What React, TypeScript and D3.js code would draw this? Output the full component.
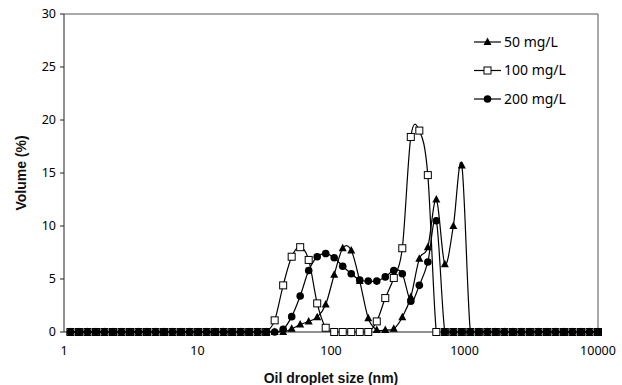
import React from "react";
import * as d3 from "d3";

const sizes = [1.117, 1.294, 1.499, 1.736, 2.01, 2.328, 2.696, 3.122, 3.615, 4.187, 4.849, 5.615, 6.503, 7.531, 8.721, 10.1, 11.7, 13.54, 15.69, 18.17, 21.04, 24.36, 28.21, 32.67, 37.84, 43.82, 50.75, 58.77, 68.06, 78.82, 91.28, 105.7, 122.4, 141.8, 164.2, 190.1, 220.2, 255.0, 295.3, 342.0, 396.1, 458.7, 531.2, 615.1, 712.4, 825.0, 955.4, 1106, 1281, 1484, 1718, 1990, 2305, 2669, 3091, 3580, 4145, 4801, 5560, 6439, 7456, 8635, 10000];

const vol50 = [0, 0, 0, 0, 0, 0, 0, 0, 0, 0, 0, 0, 0, 0, 0, 0, 0, 0, 0, 0, 0, 0, 0, 0, 0, 0, 0.3, 0.7, 1.0, 1.4, 2.6, 5.4, 7.9, 7.7, 4.8, 1.3, 0.2, 0.2, 0.3, 1.4, 3.3, 6.9, 8.0, 12.5, 6.4, 10.0, 15.7, 0, 0, 0, 0, 0, 0, 0, 0, 0, 0, 0, 0, 0, 0, 0, 0];
const vol100 = [0, 0, 0, 0, 0, 0, 0, 0, 0, 0, 0, 0, 0, 0, 0, 0, 0, 0, 0, 0, 0, 0, 0, 0, 1.1, 4.4, 7.1, 8.0, 6.8, 2.7, 0.4, 0, 0, 0, 0, 0, 1.0, 3.2, 5.1, 7.9, 18.4, 19.0, 14.8, 0, 0, 0, 0, 0, 0, 0, 0, 0, 0, 0, 0, 0, 0, 0, 0, 0, 0, 0, 0];
const vol200 = [0, 0, 0, 0, 0, 0, 0, 0, 0, 0, 0, 0, 0, 0, 0, 0, 0, 0, 0, 0, 0, 0, 0, 0, 0, 0.25, 1.45, 3.4, 5.8, 7.1, 7.4, 7.0, 6.2, 5.5, 4.9, 4.8, 4.8, 5.2, 5.8, 5.5, 2.9, 4.4, 6.6, 10.5, 0, 0, 0, 0, 0, 0, 0, 0, 0, 0, 0, 0, 0, 0, 0, 0, 0, 0, 0];

const seriesNames = ["50 mg/L", "100 mg/L", "200 mg/L"];
const xTicks = [1, 10, 100, 1000, 10000];
const yTicks = [0, 5, 10, 15, 20, 25, 30];

const W = 622, H = 385;
const L = 64, R = 598, T = 14, B = 332;

const x = d3.scaleLog().domain([1, 10000]).range([L, R]);
const y = d3.scaleLinear().domain([0, 30]).range([B, T]);

const line = d3
  .line<[number, number]>()
  .x((d) => x(d[0]))
  .y((d) => y(d[1]))
  .curve(d3.curveCardinal.tension(0));

const FONT = "'Noto Sans', 'DejaVu Sans', sans-serif";
const BOLD = "'Liberation Sans', Arial, sans-serif";

function Marker({ kind, cx, cy }: { kind: number; cx: number; cy: number }) {
  if (kind === 0) {
    const s = 4;
    return (
      <path
        d={`M${cx},${cy - s - 0.5}L${cx + s},${cy + s - 1}L${cx - s},${cy + s - 1}Z`}
        fill="#000"
      />
    );
  }
  if (kind === 1) {
    return (
      <rect x={cx - 3.5} y={cy - 3.5} width={7} height={7} fill="#fff" stroke="#000" strokeWidth={1} />
    );
  }
  return <circle cx={cx} cy={cy} r={3.8} fill="#000" />;
}

export default function App() {
  const all = [vol50, vol100, vol200];
  return (
    <svg
      width={W}
      height={H}
      style={{ position: "absolute", left: 0, top: 0, background: "#fff" }}
    >
      <defs>
        <clipPath id="plotClip">
          <rect x={L} y={T} width={R - L} height={B - T + 0.6} />
        </clipPath>
      </defs>
      <rect x={0} y={0} width={W} height={H} fill="#fff" />
      <path d={`M${L},${T}H${R}V${B}`} fill="none" stroke="#555" strokeWidth={1} />
      <line x1={L} x2={L} y1={T} y2={B} stroke="#222" strokeWidth={1} />
      <line x1={L} x2={R} y1={B} y2={B} stroke="#222" strokeWidth={1} />
      {yTicks.map((t) => (
        <g key={t}>
          <line x1={L - 4} x2={L} y1={y(t)} y2={y(t)} stroke="#222" />
          <text x={L - 8} y={y(t)} dy="0.35em" textAnchor="end" fontFamily={FONT} fontSize={12.5} fill="#000">
            {t}
          </text>
        </g>
      ))}
      {xTicks.map((t) => (
        <text key={t} x={x(t)} y={355} textAnchor="middle" fontFamily={FONT} fontSize={12.5} fill="#000">
          {t}
        </text>
      ))}
      <text x={(L + R) / 2} y={383} textAnchor="middle" fontFamily={BOLD} fontWeight="bold" fontSize={14} fill="#111">
        Oil droplet size (nm)
      </text>
      <text
        transform={`translate(26,${(T + B) / 2}) rotate(-90)`}
        textAnchor="middle"
        fontFamily={BOLD}
        fontWeight="bold"
        fontSize={14}
        fill="#111"
      >
        Volume (%)
      </text>
      {all.map((vals, si) => {
        const pts: [number, number][] = sizes.map((s, i) => [s, vals[i]]);
        return (
          <g key={si}>
            <path d={line(pts) || ""} fill="none" stroke="#000" strokeWidth={1.2} clipPath="url(#plotClip)" />
            {pts.map((p, i) => (
              <Marker key={i} kind={si} cx={x(p[0])} cy={y(p[1])} />
            ))}
          </g>
        );
      })}
      {seriesNames.map((n, i) => {
        const ly = 42 + i * 28.5;
        return (
          <g key={n}>
            <line x1={474} x2={501} y1={ly} y2={ly} stroke="#000" strokeWidth={1.2} />
            <Marker kind={i} cx={487.5} cy={ly} />
            <text x={504} y={ly} dy="0.35em" fontFamily={FONT} fontSize={14} fill="#000">
              {n}
            </text>
          </g>
        );
      })}
    </svg>
  );
}
